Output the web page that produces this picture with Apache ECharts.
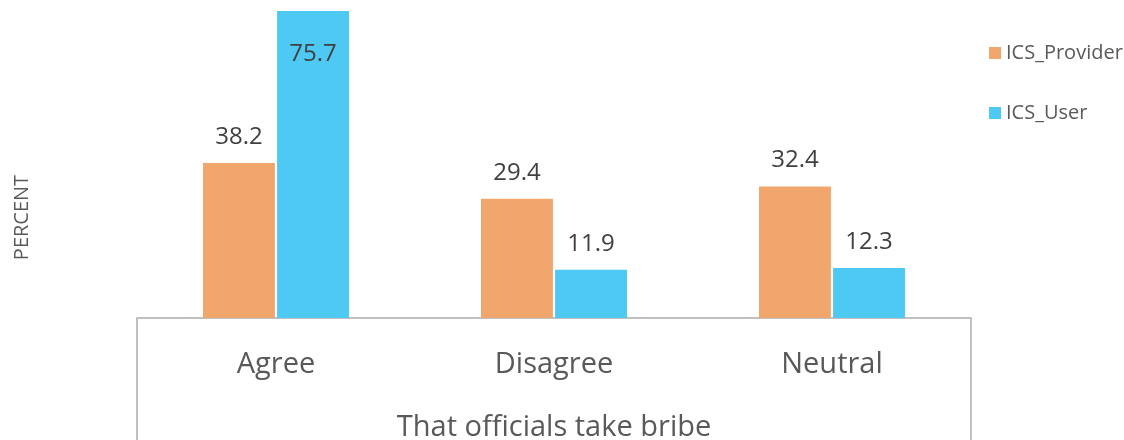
<!DOCTYPE html>
<html>
<head>
<meta charset="utf-8">
<style>
  html, body { margin: 0; padding: 0; background: #ffffff; }
  #chart { width: 1124px; height: 440px; }
</style>
<script src="https://cdn.jsdelivr.net/npm/echarts@6/dist/echarts.min.js"></script>
</head>
<body>
<div id="chart"></div>
<script>
const categories = ['Agree', 'Disagree', 'Neutral'];
const groupTitle = ['That officials take bribe'];
const seriesNames = ['ICS_Provider', 'ICS_User'];
const providerValues = [38.2, 29.4, 32.4];
const userValues = [75.7, 11.9, 12.3];

const colors = ['#F1A66D', '#4DC9F4'];
const font = '"Open Sans", "Noto Sans", sans-serif';
const maxValue = Math.max(...providerValues, ...userValues);

// The tallest bar carries its label inside the top edge; the rest sit above.
function withLabels(values) {
  return values.map(v => v === maxValue
    ? { value: v, label: { position: 'insideTop', distance: 31 } }
    : { value: v });
}

const valueLabel = {
  show: true, position: 'top', distance: 14,
  fontSize: 24, color: '#404040', fontFamily: font
};

const chart = echarts.init(document.getElementById('chart'));
chart.setOption({
  animation: false,
  color: colors,
  textStyle: { fontFamily: font },
  legend: {
    orient: 'vertical',
    left: 984,
    top: 38,
    itemWidth: 12,
    itemHeight: 12,
    itemGap: 40,
    icon: 'rect',
    textStyle: { fontSize: 20, color: '#595959', fontFamily: font },
    data: seriesNames
  },
  grid: { left: 137, right: 153, top: 11, bottom: 122, outerBoundsMode: 'none', containLabel: false },
  xAxis: [
    {
      type: 'category',
      data: categories,
      axisLine: { show: true, lineStyle: { color: '#c0c0c0', width: 2 } },
      axisTick: { show: false },
      axisLabel: { fontSize: 29, color: '#595959', margin: 32, fontFamily: font }
    },
    {
      type: 'category',
      position: 'bottom',
      data: groupTitle,
      axisLine: { show: false },
      axisTick: { show: true, length: 130, lineStyle: { color: '#c0c0c0', width: 2 } },
      axisLabel: { fontSize: 29, color: '#595959', margin: 95, fontFamily: font }
    }
  ],
  yAxis: {
    type: 'value',
    min: 0,
    max: 'dataMax',
    name: 'PERCENT',
    nameLocation: 'middle',
    nameRotate: 90,
    nameGap: 105,
    nameTextStyle: { fontSize: 20, color: '#595959', fontFamily: font, padding: [0, 106, 0, 0] },
    axisLine: { show: false },
    axisTick: { show: false },
    axisLabel: { show: false },
    splitLine: { show: false }
  },
  series: [
    {
      name: seriesNames[0],
      type: 'bar',
      xAxisIndex: 0,
      data: withLabels(providerValues),
      barGap: '3%',
      barCategoryGap: '47.5%',
      itemStyle: { color: colors[0] },
      label: valueLabel
    },
    {
      name: seriesNames[1],
      type: 'bar',
      xAxisIndex: 0,
      data: withLabels(userValues),
      barGap: '3%',
      barCategoryGap: '47.5%',
      itemStyle: { color: colors[1] },
      label: valueLabel
    }
  ]
});
</script>
</body>
</html>
